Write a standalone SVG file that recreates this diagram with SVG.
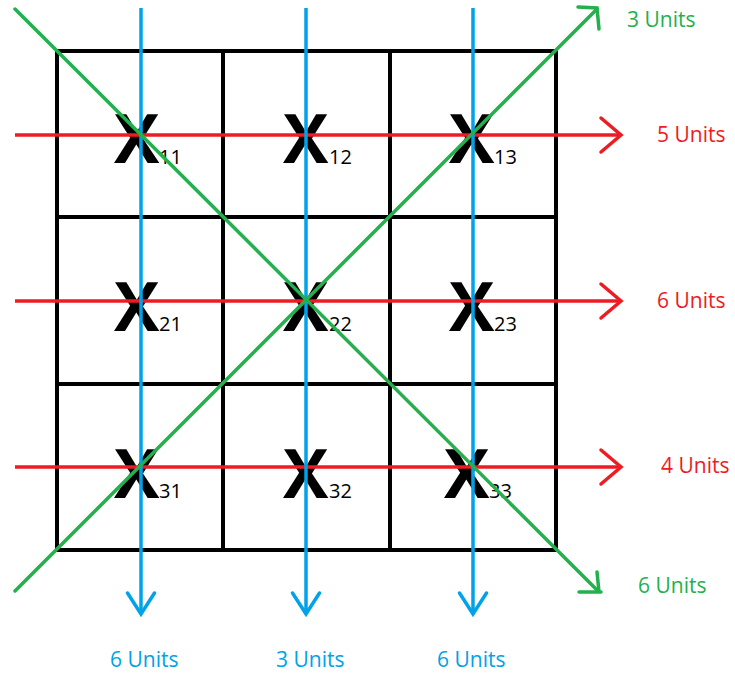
<svg xmlns="http://www.w3.org/2000/svg" width="735" height="674" viewBox="0 0 735 674">
<style>
.grid{stroke:#000;stroke-width:4;fill:none}
.x{font-family:"Open Sans","Liberation Sans",sans-serif;font-weight:bold;font-size:68px;fill:#000}
.sub{font-family:"Open Sans","Liberation Sans",sans-serif;font-size:20px;fill:#000}
.lbl{font-family:"Open Sans","Liberation Sans",sans-serif;font-size:21px}
.red{stroke:#ED1C24;stroke-width:3.5;fill:none}
.blue{stroke:#00A2E8;stroke-width:3.5;fill:none}
.green{stroke:#22B14C;stroke-width:3.5;fill:none;stroke-linecap:round}
.tr{fill:#ED1C24}.tb{fill:#00A2E8}.tg{fill:#22B14C}
</style>
<defs>
<marker id="ar" markerUnits="userSpaceOnUse" viewBox="-24 -20 28 40" refX="0" refY="0" markerWidth="28" markerHeight="40" orient="auto" overflow="visible">
<path d="M-20,-17 L0,0 L-20,17" fill="none" stroke="#ED1C24" stroke-width="3.5" stroke-linecap="round"/>
</marker>
<marker id="ab" markerUnits="userSpaceOnUse" viewBox="-24 -20 28 40" refX="0" refY="0" markerWidth="28" markerHeight="40" orient="auto" overflow="visible">
<path d="M-21,-13.5 L0,0 L-21,13.5" fill="none" stroke="#00A2E8" stroke-width="3.5" stroke-linecap="round"/>
</marker>
</defs>
<rect width="735" height="674" fill="#fff"/>
<g id="grid" class="grid">
<rect x="57" y="51" width="499" height="499"/>
<line x1="223" y1="51" x2="223" y2="550"/>
<line x1="390" y1="51" x2="390" y2="550"/>
<line x1="57" y1="217" x2="556" y2="217"/>
<line x1="57" y1="384" x2="556" y2="384"/>
</g>
<g id="x11"><text class="x" x="114" y="163">X</text><text class="sub" x="159" y="164">11</text></g>
<g id="x12"><text class="x" x="283" y="163">X</text><text class="sub" x="329" y="164">12</text></g>
<g id="x13"><text class="x" x="449" y="163">X</text><text class="sub" x="494" y="164">13</text></g>
<g id="x21"><text class="x" x="114" y="331">X</text><text class="sub" x="159" y="331">21</text></g>
<g id="x22"><text class="x" x="283" y="331">X</text><text class="sub" x="329" y="331">22</text></g>
<g id="x23"><text class="x" x="449" y="331">X</text><text class="sub" x="494" y="331">23</text></g>
<g id="x31"><text class="x" x="114" y="498">X</text><text class="sub" x="159" y="498">31</text></g>
<g id="x32"><text class="x" x="283" y="498">X</text><text class="sub" x="329" y="498">32</text></g>
<g id="x33"><text class="x" x="444" y="498">X</text><text class="sub" x="489" y="498">33</text></g>
<g id="connectors">
<line class="red" x1="15" y1="135" x2="621" y2="135" marker-end="url(#ar)"/>
<line class="red" x1="15" y1="301" x2="621" y2="301" marker-end="url(#ar)"/>
<line class="red" x1="15" y1="467" x2="621" y2="467" marker-end="url(#ar)"/>
<line class="blue" x1="141" y1="8" x2="141" y2="614" marker-end="url(#ab)"/>
<line class="blue" x1="306" y1="8" x2="306" y2="614" marker-end="url(#ab)"/>
<line class="blue" x1="473" y1="8" x2="473" y2="614" marker-end="url(#ab)"/>
<line class="green" x1="15" y1="9" x2="598" y2="591"/>
<path class="green" d="M597,572 L599,592 M579,592 L601,592"/>
<line class="green" x1="15" y1="591" x2="597" y2="9"/>
<path class="green" d="M578,7 L597,8 L599,29"/>
</g>
<g id="labels">
<text class="lbl tg" x="627" y="27">3 Units</text>
<text class="lbl tr" x="657" y="142">5 Units</text>
<text class="lbl tr" x="657" y="308">6 Units</text>
<text class="lbl tr" x="661" y="473">4 Units</text>
<text class="lbl tg" x="638" y="593">6 Units</text>
<text class="lbl tb" x="110" y="667">6 Units</text>
<text class="lbl tb" x="276" y="667">3 Units</text>
<text class="lbl tb" x="437" y="667">6 Units</text>
</g>
</svg>
